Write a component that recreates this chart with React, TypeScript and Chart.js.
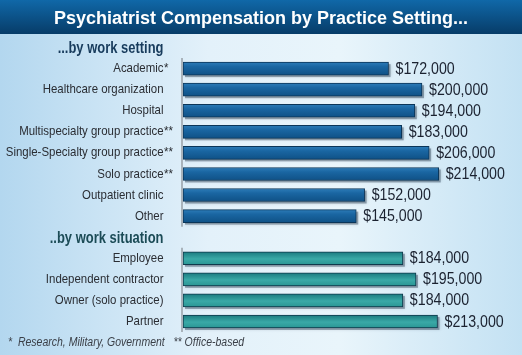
import React, { useEffect, useRef } from "react";
import { Chart, registerables } from "chart.js";

Chart.register(...registerables);

const chartTitle = "Psychiatrist Compensation by Practice Setting...";
const footnote = "*  Research, Military, Government   ** Office-based";

const settingHeader = "...by work setting";
const settingLabels = [
  "Academic*",
  "Healthcare organization",
  "Hospital",
  "Multispecialty group practice**",
  "Single-Specialty group practice**",
  "Solo practice**",
  "Outpatient clinic",
  "Other",
];
const settingValues = [172000, 200000, 194000, 183000, 206000, 214000, 152000, 145000];

const situationHeader = "..by work situation";
const situationLabels = ["Employee", "Independent contractor", "Owner (solo practice)", "Partner"];
const situationValues = [184000, 195000, 184000, 213000];

const FAMILY = '"Liberation Sans", Arial, sans-serif';

const categories = [settingHeader, ...settingLabels, situationHeader, ...situationLabels];
const headerIdx = [0, settingLabels.length + 1];
const settingData = [null, ...settingValues, null, ...situationLabels.map(() => null)];
const situationData = [null, ...settingLabels.map(() => null), null, ...situationValues];

const BAR_H = 13;

function barGradient(ctx: any, stops: [number, string][]) {
  const chart = ctx.chart;
  const y = chart.scales && chart.scales.y;
  if (!y || ctx.type !== "data" || typeof ctx.dataIndex !== "number") return stops[1][1];
  const yc = y.getPixelForValue(ctx.dataIndex);
  if (!isFinite(yc)) return stops[1][1];
  const g = chart.ctx.createLinearGradient(0, yc - BAR_H / 2, 0, yc + BAR_H / 2);
  stops.forEach(([o, c]) => g.addColorStop(o, c));
  return g;
}

// draw text squeezed horizontally (condensed look)
function condensedText(
  ctx: CanvasRenderingContext2D,
  text: string,
  x: number,
  y: number,
  font: string,
  sx: number,
  align: CanvasTextAlign
) {
  ctx.save();
  ctx.font = font;
  ctx.textAlign = align;
  ctx.textBaseline = "middle";
  ctx.translate(x, y);
  ctx.scale(sx, 1);
  ctx.fillText(text, 0, 0);
  ctx.restore();
}

const bgPlugin = {
  id: "bgPlugin",
  beforeDraw(chart: any) {
    const { ctx, width, height } = chart;
    ctx.save();
    const g = ctx.createLinearGradient(0, 0, width, 0);
    g.addColorStop(0, "#b3d7ef");
    g.addColorStop(0.4, "#e3f1fa");
    g.addColorStop(0.65, "#e9f5fb");
    g.addColorStop(1, "#c3e1f3");
    ctx.fillStyle = g;
    ctx.fillRect(0, 0, width, height);
    const b = ctx.createLinearGradient(0, 0, 0, 34);
    b.addColorStop(0, "#1068a8");
    b.addColorStop(1, "#073c68");
    ctx.fillStyle = b;
    ctx.fillRect(0, 0, width, 34);
    ctx.restore();
  },
  beforeDatasetsDraw(chart: any) {
    const { ctx, chartArea, scales } = chart;
    const y = scales.y;
    ctx.save();
    ctx.strokeStyle = "#a9b3bb";
    ctx.lineWidth = 2;
    const segs = [
      [1, settingLabels.length],
      [settingLabels.length + 2, categories.length - 1],
    ];
    const step = y.getPixelForValue(1) - y.getPixelForValue(0);
    segs.forEach(([a, b]) => {
      ctx.beginPath();
      ctx.moveTo(chartArea.left - 1, y.getPixelForValue(a) - step / 2);
      ctx.lineTo(chartArea.left - 1, y.getPixelForValue(b) + step / 2);
      ctx.stroke();
    });
    ctx.fillStyle = "rgba(30,50,70,0.40)";
    ctx.shadowColor = "rgba(30,50,70,0.45)";
    ctx.shadowBlur = 3;
    chart.data.datasets.forEach((ds: any, di: number) => {
      chart.getDatasetMeta(di).data.forEach((el: any, i: number) => {
        if (ds.data[i] == null) return;
        const { x, y: yy, base, height: h } = el.getProps(["x", "y", "base", "height"], true);
        ctx.fillRect(base + 2, yy - h / 2 + 2, x - base, h);
      });
    });
    ctx.restore();
  },
  afterDatasetsDraw(chart: any) {
    const { ctx, chartArea, scales, height } = chart;
    const y = scales.y;
    ctx.save();
    // value labels
    ctx.fillStyle = "#1b2230";
    chart.data.datasets.forEach((ds: any, di: number) => {
      chart.getDatasetMeta(di).data.forEach((el: any, i: number) => {
        const v = ds.data[i];
        if (v == null) return;
        condensedText(ctx, "$" + v.toLocaleString("en-US"), el.x + 7, el.y + 0.5, `16.5px ${FAMILY}`, 0.86, "left");
      });
    });
    // category labels and section headers
    const xr = chartArea.left - 19.5;
    categories.forEach((label, i) => {
      const yc = y.getPixelForValue(i);
      if (headerIdx.includes(i)) {
        ctx.fillStyle = i === headerIdx[0] ? "#173b5c" : "#1b4b56";
        condensedText(ctx, label, xr, yc + 1, `bold 16px ${FAMILY}`, 0.81, "right");
      } else {
        ctx.fillStyle = "#2a2d33";
        const m = label.match(/^(.*?)(\*+)$/);
        const base = m ? m[1] : label;
        condensedText(ctx, base, xr, yc, `13px ${FAMILY}`, 0.88, "right");
        if (m) condensedText(ctx, m[2], xr + 0.5, yc, `13px ${FAMILY}`, 0.88, "left");
      }
    });
    // footnote
    ctx.fillStyle = "#3a3f47";
    condensedText(ctx, footnote, 8, height - 12, `italic 12.5px ${FAMILY}`, 0.84, "left");
    ctx.restore();
  },
};

export default function App() {
  const ref = useRef<HTMLCanvasElement>(null);
  useEffect(() => {
    if (!ref.current) return;
    const chart = new Chart(ref.current, {
      type: "bar",
      data: {
        labels: categories,
        datasets: [
          {
            label: "By work setting",
            data: settingData,
            grouped: false,
            barThickness: BAR_H,
            borderWidth: 1,
            borderColor: "#0b3558",
            borderSkipped: false,
            backgroundColor: (ctx: any) =>
              barGradient(ctx, [
                [0, "#2d7cb8"],
                [0.35, "#1a66a2"],
                [1, "#0f5186"],
              ]),
          } as any,
          {
            label: "By work situation",
            data: situationData,
            grouped: false,
            barThickness: BAR_H,
            borderWidth: 1,
            borderColor: "#0f394c",
            borderSkipped: false,
            backgroundColor: (ctx: any) =>
              barGradient(ctx, [
                [0, "#1b7a7f"],
                [0.55, "#3aa9a7"],
                [1, "#2a9694"],
              ]),
          } as any,
        ],
      },
      options: {
        indexAxis: "y",
        animation: false,
        responsive: false,
        devicePixelRatio: 1,
        layout: { padding: { left: 8, right: 8, top: 0, bottom: 23 } },
        plugins: {
          legend: { display: false },
          tooltip: { enabled: false },
          title: {
            display: true,
            text: chartTitle,
            color: "#ffffff",
            font: { family: FAMILY, size: 18, weight: "bold", lineHeight: 1.2 },
            padding: { top: 8.5, bottom: 6.9 },
          },
        },
        scales: {
          x: { display: false, min: 0, max: 277000 },
          y: {
            afterFit: (s: any) => {
              s.width = 175;
            },
            grid: { display: false, drawTicks: false },
            border: { display: false },
            ticks: { display: false, autoSkip: false },
          },
        },
      },
      plugins: [bgPlugin],
    } as any);
    return () => chart.destroy();
  }, []);
  return (
    <div style={{ position: "fixed", left: 0, top: 0, width: 522, height: 355 }}>
      <canvas ref={ref} width={522} height={355} />
    </div>
  );
}
